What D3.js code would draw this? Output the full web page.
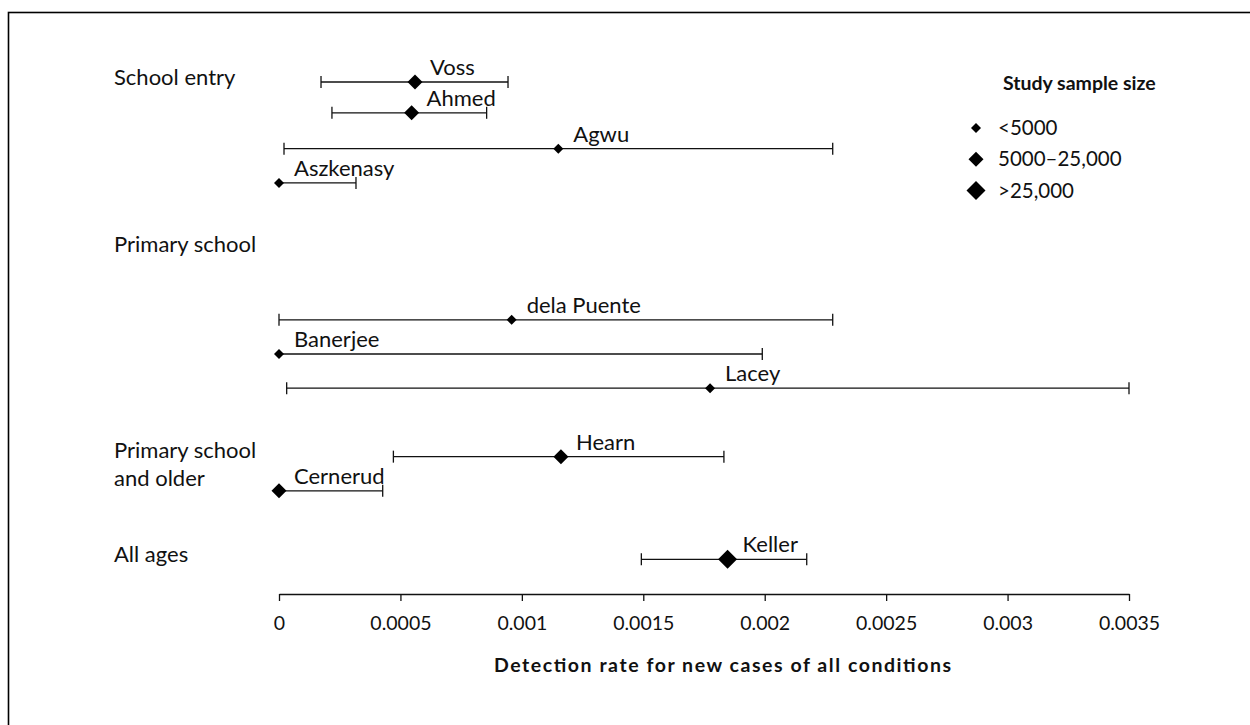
<!DOCTYPE html>
<html>
<head>
<meta charset="utf-8">
<script src="https://cdn.jsdelivr.net/npm/d3@7"></script>
<style>
  html, body { margin: 0; padding: 0; background: #fff; }
  svg { display: block; }
  text { font-family: Lato, "Open Sans", sans-serif; fill: #111; }
</style>
</head>
<body>
<svg id="chart" width="1250" height="725"></svg>
<script>
// ---- data ----
const studies   = ["Voss", "Ahmed", "Agwu", "Aszkenasy", "dela Puente", "Banerjee", "Lacey", "Hearn", "Cernerud", "Keller"];
const rowIndex  = [0, 0.9, 1.95, 2.95, 6.95, 7.95, 8.95, 10.95, 11.95, 13.95];
const estimates = [0.00056, 0.000546, 0.00115, 0.0, 0.000958, 0.0, 0.001775, 0.001161, 0.0, 0.001847];
const lowers    = [0.000173, 0.000218, 0.0000206, 0.0, 0.0, 0.0, 0.0000316, 0.000471, 0.0, 0.001492];
const uppers    = [0.000943, 0.000855, 0.00228, 0.000317, 0.00228, 0.00199, 0.0035, 0.001832, 0.000427, 0.002173];
const sizeClass = [1, 1, 0, 0, 0, 0, 0, 1, 1, 2];   // 0: <5000, 1: 5000–25,000, 2: >25,000
const groups    = [["School entry"], ["Primary school"], ["Primary school", "and older"], ["All ages"]];
const groupRow  = [0.05, 4.95, 10.95, 14];
const sizeLabels = ["<5000", "5000\u201325,000", ">25,000"];
const xTicks    = [0, 0.0005, 0.001, 0.0015, 0.002, 0.0025, 0.003, 0.0035];
const xTickLabels = ["0", "0.0005", "0.001", "0.0015", "0.002", "0.0025", "0.003", "0.0035"];
const xTitle = "Detection rate for new cases of all conditions";
const legendTitle = "Study sample size";

// ---- layout ----
const svg = d3.select("#chart");
const x = d3.scaleLinear().domain([0, 0.0035]).range([279, 1129]);
const y = d3.scaleLinear().domain([0, 14]).range([82, 561]);
const half = d3.scaleOrdinal().domain([0, 1, 2]).range([5, 7.5, 9.5]);

function diamond(h) {
  return `M0,${-h}L${h},0L0,${h}L${-h},0Z`;
}

// frame
svg.append("rect").attr("x", 8.5).attr("y", 12.5).attr("width", 1300).attr("height", 800)
  .attr("fill", "none").attr("stroke", "#000").attr("stroke-width", 1.6);

// group labels
groups.forEach((lines, i) => {
  const t = svg.append("text").attr("x", 114).attr("y", y(groupRow[i]) + 1)
    .style("font-size", "22px");
  lines.forEach((l, j) => {
    t.append("tspan").attr("x", 114).attr("dy", j === 0 ? 0 : 28).text(l);
  });
});

// error bars
const rows = studies.map((s, i) => ({ s, r: rowIndex[i], est: estimates[i], lo: lowers[i], hi: uppers[i], sz: sizeClass[i] }));
const g = svg.append("g");
const row = g.selectAll("g.row").data(rows).join("g").attr("class", "row")
  .attr("transform", d => `translate(0,${y(d.r)})`);

row.append("line").attr("x1", d => x(d.lo)).attr("x2", d => x(d.hi))
  .attr("stroke", "#111").attr("stroke-width", 1.3);
row.filter(d => d.lo !== d.est).append("line")
  .attr("x1", d => x(d.lo)).attr("x2", d => x(d.lo)).attr("y1", -6).attr("y2", 6)
  .attr("stroke", "#111").attr("stroke-width", 1.3);
row.filter(d => d.hi !== d.est).append("line")
  .attr("x1", d => x(d.hi)).attr("x2", d => x(d.hi)).attr("y1", -6).attr("y2", 6)
  .attr("stroke", "#111").attr("stroke-width", 1.3);
row.append("path").attr("d", d => diamond(half(d.sz)))
  .attr("transform", d => `translate(${x(d.est)},0)`).attr("fill", "#000");
row.append("text").attr("x", d => x(d.est) + 15).attr("y", -7)
  .style("font-size", "22px").text(d => d.s);

// x axis
const axis = d3.axisBottom(x).tickValues(xTicks).tickFormat((d, i) => xTickLabels[i])
  .tickSizeInner(7).tickSizeOuter(0).tickPadding(15);
const ax = svg.append("g").attr("transform", "translate(0,594)").call(axis);
ax.select(".domain").attr("stroke", "#111").attr("stroke-width", 1.3);
ax.selectAll(".tick line").attr("stroke", "#111").attr("stroke-width", 1.3);
ax.selectAll(".tick text").style("font-family", "Lato, sans-serif").style("font-size", "19.5px").attr("fill", "#111");

svg.append("text").attr("x", 494).attr("y", 672)
  .attr("textLength", 457).attr("lengthAdjust", "spacing")
  .style("font-size", "19.5px").style("font-weight", "bold").text(xTitle);

// legend
svg.append("text").attr("x", 1003).attr("y", 90).style("font-size", "19.5px")
  .style("font-weight", "bold").text(legendTitle);
const leg = svg.append("g").selectAll("g").data(sizeLabels).join("g")
  .attr("transform", (d, i) => `translate(976,${128 + i * 31.3})`);
leg.append("path").attr("d", (d, i) => diamond(half(i))).attr("fill", "#000");
leg.append("text").attr("x", 22).attr("y", 7).style("font-size", "20.5px").text(d => d);
</script>
</body>
</html>
